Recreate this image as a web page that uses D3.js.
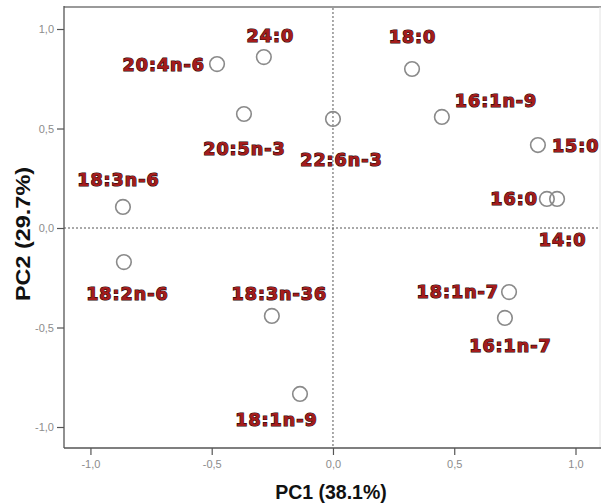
<!DOCTYPE html>
<html>
<head>
<meta charset="utf-8">
<script src="https://cdn.jsdelivr.net/npm/d3@7"></script>
<style>
  html, body { margin: 0; padding: 0; background: #fff; }
  svg { display: block; }
</style>
</head>
<body>
<svg id="chart" width="601" height="504"></svg>
<script>
// ---- data ----
const labels = ["20:4n-6", "24:0", "20:5n-3", "22:6n-3", "18:0", "16:1n-9", "15:0", "16:0", "14:0",
                "18:3n-6", "18:2n-6", "18:3n-36", "18:1n-9", "18:1n-7", "16:1n-7"];
const pc1 = [-0.478, -0.285, -0.367, 0.000, 0.326, 0.449, 0.845, 0.882, 0.924,
             -0.866, -0.862, -0.252, -0.136, 0.726, 0.709];
const pc2 = [0.824, 0.859, 0.573, 0.548, 0.799, 0.558, 0.417, 0.146, 0.146,
             0.106, -0.171, -0.442, -0.834, -0.322, -0.452];
const tickValues = [-1.0, -0.5, 0.0, 0.5, 1.0];
const xTitle = "PC1 (38.1%)";
const yTitle = "PC2 (29.7%)";

// label placement (layout only): [text-anchor, dx, dy] relative to the point
const labelPlacement = [
  ["end", -13, 7], ["middle", 6, -15], ["middle", 0, 41], ["middle", 8, 47],
  ["middle", 0, -26], ["start", 13, -10], ["start", 14, 7], ["end", -10, 6],
  ["middle", 5, 47], ["middle", -5, -21], ["middle", 3, 38], ["middle", 7, -16],
  ["middle", -24, 32], ["end", -11, 6], ["middle", 5, 34]
];

// ---- chart ----
const svg = d3.select("#chart");
const pL = 64, pR = 600, pT = 7, pB = 448;

const x = d3.scaleLinear().domain([-1.109, 1.101]).range([pL, pR]);
const y = d3.scaleLinear().domain([-1.1055, 1.1106]).range([pB, pT]);

const locale = d3.formatLocale({decimal: ",", thousands: ".", grouping: [3], currency: ["", ""], minus: "-"});
const fmt = locale.format(".1f");

// frame
svg.append("line").attr("x1", pL).attr("x2", 601).attr("y1", pT).attr("y2", pT)
  .attr("stroke", "#9a9a9a").attr("stroke-width", 2);
svg.append("line").attr("x1", pR).attr("x2", pR).attr("y1", pT).attr("y2", pB)
  .attr("stroke", "#e2e2e2").attr("stroke-width", 1);

// zero reference lines
svg.append("line").attr("x1", x(0)).attr("x2", x(0)).attr("y1", pT + 1).attr("y2", pB)
  .attr("stroke", "#555").attr("stroke-width", 1).attr("stroke-dasharray", "2,2");
svg.append("line").attr("x1", pL).attr("x2", pR).attr("y1", y(0)).attr("y2", y(0))
  .attr("stroke", "#555").attr("stroke-width", 1).attr("stroke-dasharray", "2,2");

// axes
const yAxis = svg.append("g").attr("transform", `translate(${pL},0)`)
  .call(d3.axisLeft(y).tickValues(tickValues).tickFormat(fmt).tickSize(7).tickPadding(3));
const xAxis = svg.append("g").attr("transform", `translate(0,${pB})`)
  .call(d3.axisBottom(x).tickValues(tickValues).tickFormat(fmt).tickSize(7).tickPadding(5));

[yAxis, xAxis].forEach(g => {
  g.select(".domain").remove();
  g.selectAll(".tick line").attr("stroke", "#555").attr("stroke-width", 1.2);
  g.selectAll(".tick text").attr("fill", "#8c8c8c")
    .style("font-family", "'Liberation Sans', Arial, sans-serif").style("font-size", "11px");
});

// axis lines
svg.append("line").attr("x1", pL).attr("x2", pL).attr("y1", pT - 1).attr("y2", pB)
  .attr("stroke", "#555").attr("stroke-width", 1.3);
svg.append("line").attr("x1", pL).attr("x2", 601).attr("y1", pB).attr("y2", pB)
  .attr("stroke", "#555").attr("stroke-width", 1.3);

// points
const pts = labels.map((l, i) => ({label: l, x: pc1[i], y: pc2[i], p: labelPlacement[i]}));

svg.append("g").selectAll("circle").data(pts).join("circle")
  .attr("cx", d => x(d.x)).attr("cy", d => y(d.y)).attr("r", 7.3)
  .attr("fill", "none").attr("stroke", "#8a8a8a").attr("stroke-width", 1.6);

svg.append("g").selectAll("text").data(pts).join("text")
  .attr("x", d => x(d.x) + d.p[1] + (d.p[0] === "end" ? 1 : d.p[0] === "middle" ? 0.5 : 0))
  .attr("y", d => y(d.y) + d.p[2])
  .attr("text-anchor", d => d.p[0])
  .style("font-family", "'DejaVu Sans', sans-serif").style("font-weight", "bold")
  .style("font-size", "17.5px").style("letter-spacing", "1px")
  .attr("fill", "#a41c1c").attr("stroke", "#2a0808").attr("stroke-width", 1.2)
  .attr("paint-order", "stroke")
  .text(d => d.label);

// axis titles
svg.append("text").attr("x", 331).attr("y", 499).attr("text-anchor", "middle")
  .style("font-family", "'Liberation Sans', Arial, sans-serif").style("font-weight", "bold")
  .style("font-size", "19.5px").attr("fill", "#111").text(xTitle);
svg.append("text").attr("transform", "translate(30,234) rotate(-90)").attr("text-anchor", "middle")
  .style("font-family", "'Liberation Sans', Arial, sans-serif").style("font-weight", "bold")
  .style("font-size", "21px").attr("fill", "#111")
  .attr("textLength", 134).attr("lengthAdjust", "spacingAndGlyphs").text(yTitle);
</script>
</body>
</html>
